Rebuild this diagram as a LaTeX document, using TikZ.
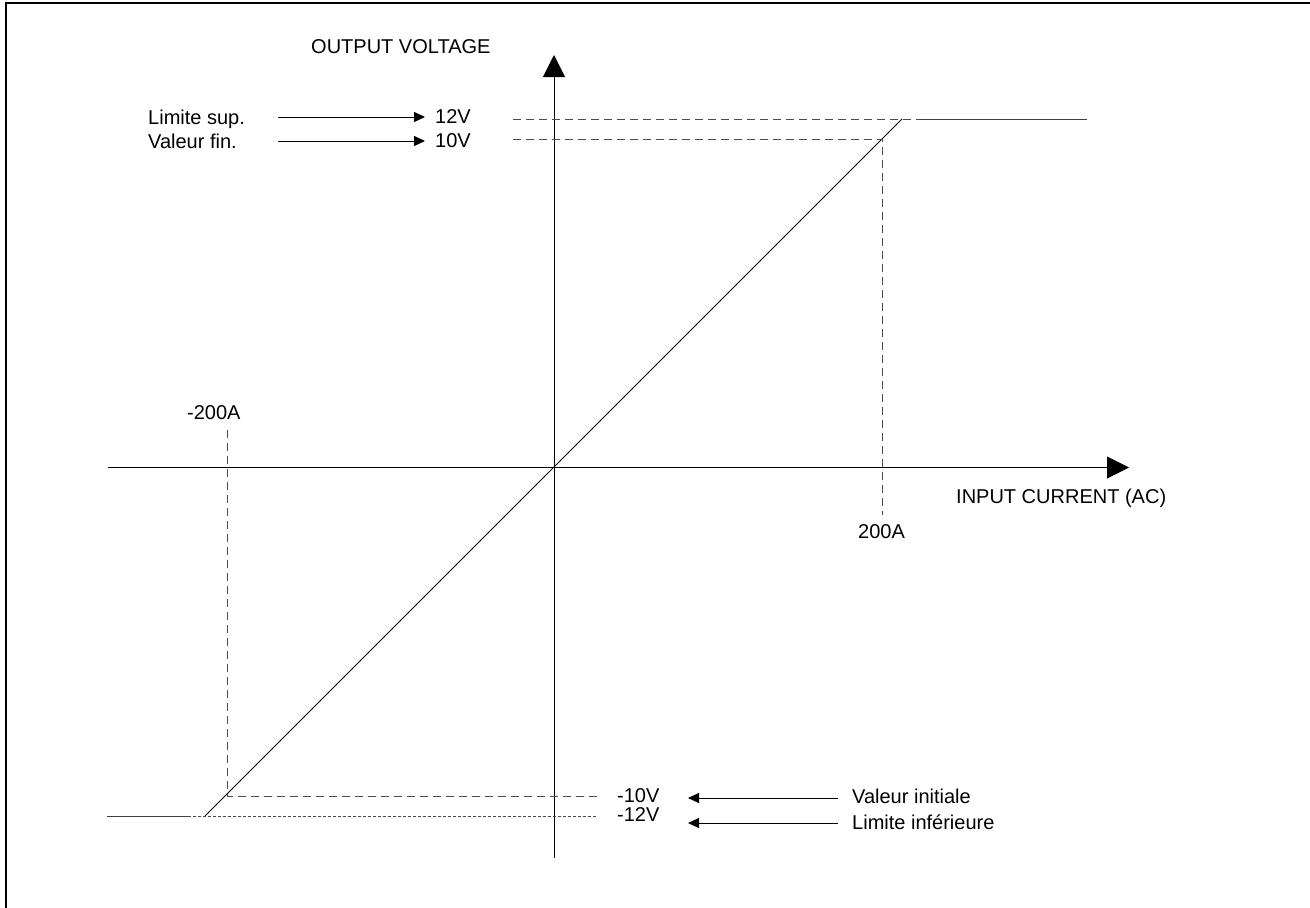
\documentclass[tikz,border=0pt]{standalone}
\usepackage{fontspec}
\setmainfont{Liberation Sans}
\usetikzlibrary{arrows.meta}
\begin{document}
\begin{tikzpicture}[x=1pt,y=-1pt,
  lbl/.style={anchor=base west,inner sep=0pt,font=\fontsize{20}{24}\selectfont},
  axis/.style={line width=1pt,-{Triangle[length=22pt,width=22pt]}},
  guide/.style={line width=1pt,black!70,dash pattern=on 8pt off 5pt},
  fineguide/.style={line width=1pt,black!70,dash pattern=on 3pt off 2pt},
  level/.style={line width=1pt,black!75},
  curve/.style={line width=1pt},
  pointer/.style={line width=1pt,-{Triangle[length=11pt,width=10pt]}},
  frame/.style={line width=2.5pt}]
\useasboundingbox (0,0) rectangle (1310,908);
% frame
\coordinate (fbl) at (6,908);
\coordinate (ftl) at (6,3);
\coordinate (ftr) at (1310,3);
\draw[frame] (fbl) -- (ftl) -- (ftr);
% axes
\coordinate (ybot) at (554,858);
\coordinate (ytop) at (554,55);
\coordinate (xl) at (108,467.5);
\coordinate (xr) at (1129,467.5);
\draw[axis] (ybot) -- (ytop);
\draw[axis] (xl) -- (xr);
% characteristic
\coordinate (lowend) at (205,816);
\coordinate (highend) at (902,119);
\draw[curve] (lowend) -- (highend);
% upper guides
\coordinate (g12l) at (513,119);
\coordinate (g12r) at (920,119);
\coordinate (s12r) at (1087,119);
\draw[guide] (g12l) -- (g12r);
\draw[level] (g12r) -- (s12r);
\coordinate (g10l) at (513,139);
\coordinate (g10r) at (882,139);
\coordinate (v200b) at (882,515);
\draw[guide] (g10l) -- (g10r) -- (v200b);
% lower guides
\coordinate (vm200t) at (227,430);
\coordinate (gm10l) at (227,796);
\coordinate (gm10r) at (597,796);
\draw[guide] (vm200t) -- (gm10l) -- (gm10r);
\coordinate (sm12l) at (107,816);
\coordinate (gm12l) at (188,816);
\coordinate (gm12r) at (597,816);
\draw[level] (sm12l) -- (gm12l);
\draw[fineguide] (gm12l) -- (gm12r);
% labels
\node[lbl] (outv) at (311,53) {OUTPUT VOLTAGE};
\node[lbl] (inc) at (956,503) {INPUT CURRENT (AC)};
\node[lbl] (p200) at (858,538) {200A};
\node[lbl] (m200) at (187,419) {-200A};
\node[lbl] (lsup) at (148,124) {Limite sup.};
\node[lbl] (vfin) at (148,148) {Valeur fin.};
\node[lbl] (v12) at (435,123) {12V};
\node[lbl] (v10) at (435,147) {10V};
\node[lbl] (vm10) at (617,802) {-10V};
\node[lbl] (vm12) at (617,821) {-12V};
\node[lbl] (vini) at (852,803) {Valeur initiale};
\node[lbl] (linf) at (852,829) {Limite inférieure};
% pointers
\coordinate (a1s) at (278,117);
\coordinate (a1e) at (425,117);
\coordinate (a2s) at (278,141);
\coordinate (a2e) at (425,141);
\coordinate (a3s) at (838,798);
\coordinate (a3e) at (688,798);
\coordinate (a4s) at (838,823);
\coordinate (a4e) at (688,823);
\draw[pointer] (a1s) -- (a1e);
\draw[pointer] (a2s) -- (a2e);
\draw[pointer] (a3s) -- (a3e);
\draw[pointer] (a4s) -- (a4e);
\end{tikzpicture}
\end{document}
